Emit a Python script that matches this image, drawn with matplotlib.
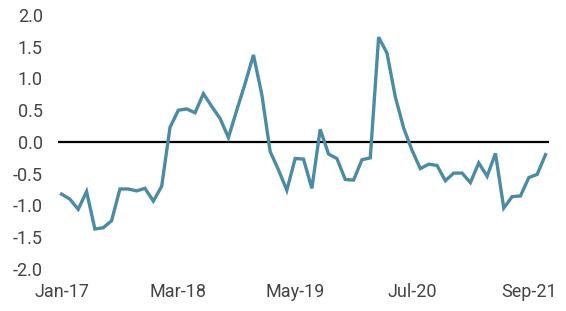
import matplotlib
matplotlib.use("Agg")
import matplotlib.pyplot as plt
import pandas as pd

dates = pd.date_range("2017-01-01", periods=59, freq="MS")
values = [-0.82, -0.90, -1.06, -0.78, -1.37, -1.35, -1.24, -0.74, -0.74, -0.77,
          -0.73, -0.93, -0.70, 0.23, 0.50, 0.52, 0.46, 0.76, 0.56, 0.37,
          0.07, 0.50, 0.92, 1.37, 0.75, -0.15, -0.44, -0.76, -0.26, -0.27,
          -0.73, 0.20, -0.19, -0.26, -0.59, -0.60, -0.28, -0.25, 1.65, 1.40,
          0.71, 0.22, -0.13, -0.42, -0.35, -0.37, -0.61, -0.49, -0.49, -0.64,
          -0.33, -0.54, -0.18, -1.04, -0.86, -0.85, -0.56, -0.51, -0.20]
xtick_idx = [0, 14, 28, 42, 56]
xtick_labels = [dates[i].strftime("%b-%y") for i in xtick_idx]
yticks = [-2.0, -1.5, -1.0, -0.5, 0.0, 0.5, 1.0, 1.5, 2.0]

plt.rcParams['font.family'] = ['Roboto', 'DejaVu Sans']

fig = plt.figure(figsize=(5.66, 3.11), dpi=100)
ax = fig.add_axes([0.1025, 0.135, 0.8675, 0.817])
x = list(range(len(values)))
ax.axhline(0, color="black", lw=1.6, zorder=1)
ax.plot(x, values, color="#4A8BA5", lw=2.4, zorder=2, solid_joinstyle="miter")
ax.set_xlim(-0.42, len(values) - 1 + 0.42)
ax.set_ylim(-2, 2)
ax.set_yticks(yticks)
ax.set_yticklabels([f"{v:.1f}" for v in yticks])
ax.set_xticks(xtick_idx)
ax.set_xticklabels(xtick_labels)
for s in ax.spines.values():
    s.set_visible(False)
ax.tick_params(axis="y", length=0, labelsize=13, colors="#444444", pad=11)
ax.tick_params(axis="x", length=0, labelsize=13, colors="#444444", pad=10)
fig.savefig("out.png", dpi=100)
